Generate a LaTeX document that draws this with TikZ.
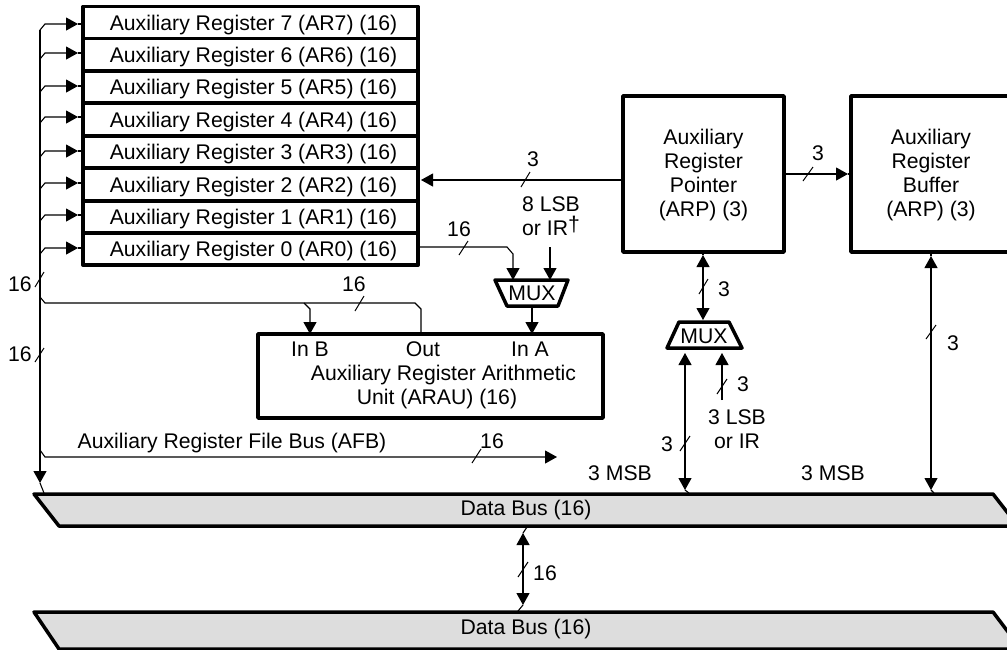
\documentclass[tikz,border=0pt]{standalone}
\usepackage{fontspec}
\setmainfont{Liberation Sans}
\usetikzlibrary{arrows.meta}
\definecolor{busgray}{HTML}{DDDDDD}
\tikzset{
  x=1pt,y=-1pt,
  every node/.style={font=\fontsize{21.2}{23.8}\selectfont,inner sep=0pt,outer sep=0pt},
  lbl/.style={text height=15pt,text depth=0pt},
  multi/.style={align=center},
  thickbox/.style={draw=black,line width=3.5pt,fill=white,rectangle,line join=round},
  regbox/.style={thickbox,minimum width=335pt,minimum height=32.25pt},
  conn/.style={draw=black,line width=1.1pt},
  arr/.style={conn,-{Triangle[length=12pt,width=13pt]}},
  both/.style={conn,{Triangle[length=12pt,width=13pt]}-{Triangle[length=12pt,width=13pt]}},
  slash/.style={draw=black,line width=1pt},
  bus/.style={draw=black,line width=3.5pt,fill=busgray,line join=round},
  muxshape/.style={draw=black,line width=3.5pt,fill=white,line join=round},
}
\begin{document}
\begin{tikzpicture}
\useasboundingbox (0,0) rectangle (1007,649);
\clip (0,0) rectangle (1007,649);
\fill[white] (0,0) rectangle (1007,649);

% data buses
\draw[bus] (34,494) -- (993,494) -- (1018,526) -- (59,526) -- cycle;
\draw[bus] (34,612) -- (993,612) -- (1021,649) -- (59,649) -- cycle;
\node[lbl] (db1) at (526,507.5) {Data Bus (16)};
\node[lbl] (db2) at (526,627) {Data Bus (16)};

% registers
\foreach \n/\yc in {7/22.75,6/54.75,5/87,4/119.5,3/152,2/184.5,1/217,0/249}{
  \node[regbox,lbl] (ar\n) at (250.5,\yc) {\hspace*{6pt}Auxiliary Register \n\ (AR\n) (16)};
}

% main boxes
\node[thickbox,multi,minimum width=161pt,minimum height=156pt] (arp) at (703.5,174) {\rule{0pt}{17.5pt}Auxiliary\\Register\\Pointer\\(ARP) (3)};
\node[thickbox,multi,minimum width=160pt,minimum height=156pt] (buf) at (931,174) {\rule{0pt}{17.5pt}Auxiliary\\Register\\Buffer\\(ARP) (3)};
\node[thickbox,minimum width=345pt,minimum height=84pt] (arau) at (430.5,376) {};
\node[lbl] (inb) at (310,349) {In B};
\node[lbl] (out) at (423,349) {Out};
\node[lbl] (ina) at (530,349) {In A};
\node[lbl] (araut1) at (443.5,373) {Auxiliary Register Arithmetic};
\node[lbl] (araut2) at (437,397) {Unit (ARAU) (16)};

% muxes
\draw[muxshape] (495,280) -- (568,280) -- (558,306) -- (507,306) -- cycle;
\node[lbl] (muxa) at (532,293) {MUX};
\draw[muxshape] (679,322) -- (729,322) -- (742,348) -- (667,348) -- cycle;
\node[lbl] (muxb) at (704,336) {MUX};

% named connector ends
\coordinate (a1) at (513,280);
\coordinate (a2) at (550,280);
\coordinate (a2s) at (550,247);
\coordinate (a3) at (532,334);
\coordinate (a3s) at (532,306);
\coordinate (b1) at (310,334);
\coordinate (o1) at (421,334);
\coordinate (m1) at (703,320);
\coordinate (m2) at (703,255);
\coordinate (m3) at (685,353);
\coordinate (m3b) at (685,490);
\coordinate (m4) at (722,353);
\coordinate (m4s) at (722,400);
\coordinate (bf1) at (931,256);
\coordinate (bf2) at (931,490);
\coordinate (d1) at (523,533);
\coordinate (d2) at (523,605);
\coordinate (afbend) at (557,457);

% left bus with register branches
\foreach \n/\y in {7/24,6/53,5/86,4/117,3/151,2/183,1/215,0/248}{
  \draw[arr] (40,\y+6) -- (45,\y) -- (78,\y);
  \draw[conn] (78,\y) -- (ar\n.west |- 0,\y);
}
\draw[arr] (40,30) -- (40,483);
\draw[conn] (40,483) -- (44,493);
\draw[conn] (40,297) -- (45,303) -- (415,303) -- (421,309) -- (o1);
\draw[arr] (304,303) -- (310,309) -- (b1);
\draw[arr] (40,450) -- (45,457) -- (afbend);

% register file, muxes
\draw[arr] (arp.west |- 0,180) -- (421,180);
\draw[arr] (ar0.east |- 0,247) -- (507,247) -- (513,254) -- (a1);
\draw[arr] (a2s) -- (a2);
\draw[arr] (a3s) -- (a3);
\draw[arr] (arp.east |- 0,174) -- (848,174);
\draw[conn] (848,174) -- (buf.west |- 0,174);

\draw[both] (m2) -- (m1);
\draw[conn] (arp.south -| m2) -- (m2);
\draw[both] (m3) -- (m3b);
\draw[conn] (m3b) -- (689,493);
\draw[arr] (m4s) -- (m4);
\draw[both] (bf1) -- (bf2);
\draw[conn] (buf.south) -- (bf1);
\draw[conn] (bf2) -- (934,493);
\draw[both] (d1) -- (d2);
\draw[conn] (d1) -- (527,527);
\draw[conn] (d2) -- (518,611);

% bus-width slashes
\draw[slash] (35,287) -- (44,272);
\draw[slash] (35,362) -- (44,348);
\draw[slash] (355,311) -- (364,296);
\draw[slash] (459,255) -- (468,241);
\draw[slash] (521,187) -- (530,172);
\draw[slash] (803,181) -- (813,167);
\draw[slash] (699,294) -- (708,279);
\draw[slash] (717,394) -- (727,379);
\draw[slash] (680,451) -- (690,436);
\draw[slash] (926,339) -- (936,325);
\draw[slash] (472,463) -- (481,449);
\draw[slash] (518,577) -- (528,562);

% labels
\node[lbl] (l1) at (20,284) {16};
\node[lbl] (l2) at (20,354) {16};
\node[lbl] (l3) at (354,284) {16};
\node[lbl] (l4) at (459,229) {16};
\node[lbl] (l5) at (533,159) {3};
\node[lbl] (l6) at (818,153) {3};
\node[lbl] (l7) at (724,289) {3};
\node[lbl] (l8) at (743,384) {3};
\node[lbl] (l9) at (667,444) {3};
\node[lbl] (l10) at (953,343) {3};
\node[lbl] (l11) at (492,441) {16};
\node[lbl] (l12) at (545,573) {16};
\node[multi] (l13) at (551,216) {8 LSB\\or IR\raisebox{4pt}{†}};
\node[multi] (l14) at (737,429) {3 LSB\\or IR};
\node[lbl] (l15) at (620,473) {3 MSB};
\node[lbl] (l16) at (833,473) {3 MSB};
\node[lbl] (l17) at (232,441) {Auxiliary Register File Bus (AFB)};
\end{tikzpicture}
\end{document}
